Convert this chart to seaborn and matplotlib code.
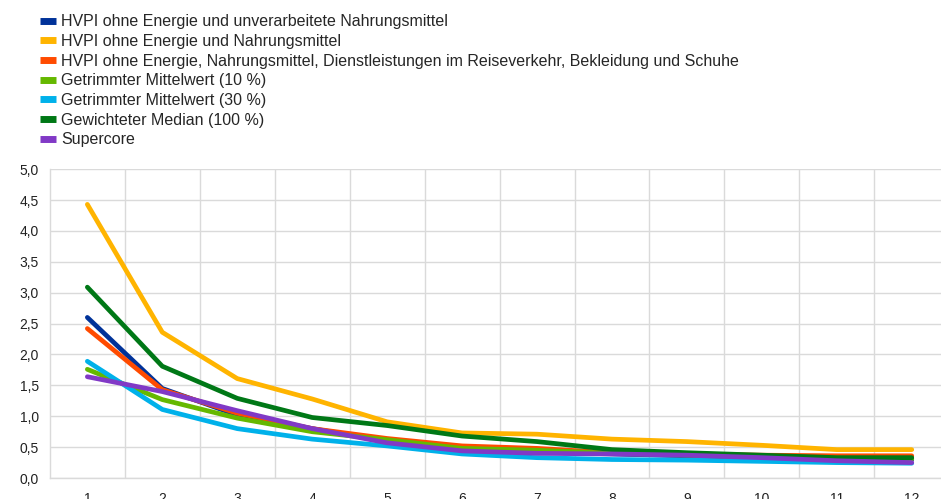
import numpy as np
import pandas as pd
import matplotlib
matplotlib.use("Agg")
import matplotlib.pyplot as plt
import seaborn as sns
from matplotlib.lines import Line2D

months = list(range(1, 13))

series_names = [
    "HVPI ohne Energie und unverarbeitete Nahrungsmittel",
    "HVPI ohne Energie und Nahrungsmittel",
    "HVPI ohne Energie, Nahrungsmittel, Dienstleistungen im Reiseverkehr, Bekleidung und Schuhe",
    "Getrimmter Mittelwert (10 %)",
    "Getrimmter Mittelwert (30 %)",
    "Gewichteter Median (100 %)",
    "Supercore",
]

hvpi_ex_energy_unproc = [2.60, 1.45, 1.02, 0.80, 0.60, 0.47, 0.42, 0.39, 0.36, 0.33, 0.31, 0.30]
hvpi_ex_energy_food = [4.43, 2.36, 1.61, 1.28, 0.91, 0.73, 0.71, 0.63, 0.59, 0.53, 0.46, 0.46]
hvpi_ex_travel_clothing = [2.42, 1.43, 1.05, 0.80, 0.64, 0.52, 0.48, 0.41, 0.39, 0.37, 0.36, 0.36]
trimmed_10 = [1.76, 1.27, 0.97, 0.75, 0.62, 0.48, 0.45, 0.40, 0.37, 0.34, 0.32, 0.31]
trimmed_30 = [1.89, 1.11, 0.80, 0.63, 0.52, 0.39, 0.33, 0.30, 0.29, 0.27, 0.25, 0.24]
weighted_median = [3.09, 1.81, 1.29, 0.98, 0.85, 0.68, 0.59, 0.46, 0.41, 0.37, 0.33, 0.33]
supercore = [1.64, 1.40, 1.09, 0.80, 0.57, 0.44, 0.40, 0.39, 0.37, 0.33, 0.28, 0.25]

colors = ["#003299", "#FFB400", "#FF4B00", "#65B800", "#00B1EA", "#007816", "#8139C6"]

values = [hvpi_ex_energy_unproc, hvpi_ex_energy_food, hvpi_ex_travel_clothing,
          trimmed_10, trimmed_30, weighted_median, supercore]

df = pd.concat(
    [pd.DataFrame({"month": months, "value": v, "series": n}) for n, v in zip(series_names, values)],
    ignore_index=True,
)

sns.set_style("white")
plt.rcParams["font.family"] = ["Liberation Sans", "DejaVu Sans"]

fig = plt.figure(figsize=(9.41, 4.99), dpi=100)
ax = fig.add_axes([0.053, 0.042, 0.947, 0.619])

sns.lineplot(data=df, x="month", y="value", hue="series", hue_order=series_names,
             palette=colors, linewidth=3.4, legend=False, ax=ax,
             solid_capstyle="round", solid_joinstyle="round")

ax.set_xlim(0.5, 12.39)
ax.set_ylim(0, 5)
ax.set_yticks(np.arange(0, 5.01, 0.5))
ax.set_yticklabels([f"{t:.1f}".replace(".", ",") for t in np.arange(0, 5.01, 0.5)])
ax.set_xticks(months)
ax.set_xticks(np.arange(1.5, 12.5, 1), minor=True)
ax.grid(False)
ax.grid(which="minor", axis="x", color="#DADADA", linewidth=1)
ax.grid(which="major", axis="y", color="#DADADA", linewidth=1)
ax.set_axisbelow(True)
ax.tick_params(axis="both", which="both", length=0, labelsize=10, colors="#222222")
ax.tick_params(axis="x", pad=10)
ax.tick_params(axis="y", pad=8)
ax.set_xlabel("")
ax.set_ylabel("")
for side in ["top", "right"]:
    ax.spines[side].set_visible(False)
for side in ["left", "bottom"]:
    ax.spines[side].set_color("#DADADA")
    ax.spines[side].set_linewidth(1)

handles = [Line2D([0], [0], color=c, linewidth=5, solid_capstyle="butt") for c in colors]
fig.legend(handles, series_names, loc="upper left", bbox_to_anchor=(0.0275, 1.0),
           frameon=False, fontsize=11.5, handlelength=1.0, handletextpad=0.3,
           labelspacing=0.29, borderaxespad=0.5)

fig.savefig("out.png", dpi=100)
